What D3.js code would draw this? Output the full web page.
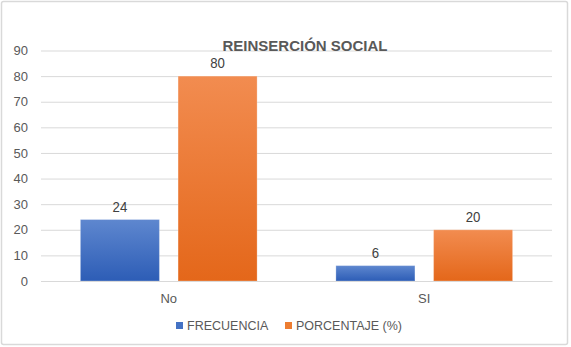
<!DOCTYPE html>
<html><head><meta charset="utf-8">
<script src="https://cdn.jsdelivr.net/npm/d3@7"></script>
<style>body{margin:0;background:#fff}svg{display:block}</style>
</head><body>
<script>
const categories = ["No", "SI"];
const seriesNames = ["FRECUENCIA", "PORCENTAJE (%)"];
const frecuencia = [24, 6];
const porcentaje = [80, 20];
const yTicks = [0, 10, 20, 30, 40, 50, 60, 70, 80, 90];
const title = "REINSERCIÓN SOCIAL";

const W = 571, H = 347;
const svg = d3.select("body").append("svg").attr("width", W).attr("height", H);
const defs = svg.append("defs");
const grads = [["gBlue", "#5e87cf", "#2d5db6"], ["gOrange", "#f28c50", "#e4671a"]];
grads.forEach(([id, c1, c2]) => {
  const g = defs.append("linearGradient").attr("id", id).attr("x1", 0).attr("y1", 0).attr("x2", 0).attr("y2", 1);
  g.append("stop").attr("offset", "0%").attr("stop-color", c1);
  g.append("stop").attr("offset", "100%").attr("stop-color", c2);
});
const fills = ["url(#gBlue)", "url(#gOrange)"];
const legendColors = ["#4472c4", "#ed7d31"];

svg.append("rect").attr("x", 1.5).attr("y", 1.5).attr("width", 566).attr("height", 343)
  .attr("rx", 2).attr("fill", "#fff").attr("stroke", "#d9d9d9").attr("stroke-width", 1.5);

const pLeft = 41, pRight = 552, pTop = 50.5, pBottom = 281;
const y = d3.scaleLinear().domain([0, 90]).range([pBottom, pTop]);
const p = 0.3084;
const x0 = d3.scaleBand().domain(categories).range([pLeft, pRight]).paddingInner(p).paddingOuter(p / 2);
const x1 = d3.scaleBand().domain(seriesNames).range([0, x0.bandwidth()]).paddingInner(0.191).paddingOuter(0);

const font = "'Liberation Sans', Arial, sans-serif";
const gray = "#595959";

// gridlines
const yAxis = d3.axisLeft(y).tickValues(yTicks).tickSize(-(pRight - pLeft)).tickPadding(13).tickFormat(d3.format("d"));
const ga = svg.append("g").attr("transform", `translate(${pLeft},0)`).call(yAxis);
ga.select(".domain").remove();
ga.selectAll(".tick line").attr("stroke", "#d9d9d9").attr("stroke-width", 1);
ga.selectAll(".tick text").attr("fill", gray).attr("font-size", 13).attr("font-family", font);

// bars
const data = categories.map((c, i) => ({ cat: c, vals: [frecuencia[i], porcentaje[i]] }));
const groups = svg.append("g").selectAll("g").data(data).join("g")
  .attr("transform", d => `translate(${x0(d.cat)},0)`);
groups.selectAll("rect").data(d => d.vals.map((v, j) => ({ v, s: seriesNames[j], j })))
  .join("rect")
  .attr("x", d => x1(d.s)).attr("y", d => y(d.v))
  .attr("width", x1.bandwidth()).attr("height", d => y(0) - y(d.v))
  .attr("fill", d => fills[d.j])
  .attr("stroke", "rgba(255,255,255,0.25)").attr("stroke-width", 1);
groups.selectAll("text").data(d => d.vals.map((v, j) => ({ v, s: seriesNames[j], j })))
  .join("text")
  .attr("transform", d => `translate(${x1(d.s) + x1.bandwidth() / 2},${y(d.v) - 8}) scale(0.88,1)`)
  .attr("text-anchor", "middle").attr("fill", "#404040").attr("font-size", 15)
  .attr("font-family", font)
  .text(d => d.v);

// x axis
const gx = svg.append("g").attr("transform", `translate(0,${pBottom})`)
  .call(d3.axisBottom(x0).tickSize(0).tickPadding(13));
gx.select(".domain").attr("stroke", "#d9d9d9");
gx.selectAll(".tick text").attr("fill", gray).attr("font-size", 13).attr("font-family", font);

// title
svg.append("text").attr("x", 305).attr("y", 51).attr("text-anchor", "middle")
  .attr("font-family", font).attr("font-weight", "bold").attr("font-size", 15)
  .attr("fill", gray).text(title);

// legend
const legendX = [176, 285];
seriesNames.forEach((s, i) => {
  svg.append("rect").attr("x", legendX[i]).attr("y", 322).attr("width", 7).attr("height", 7).attr("fill", legendColors[i]);
  svg.append("text").attr("x", legendX[i] + 11).attr("y", 330).attr("font-family", font)
    .attr("font-size", 12.5).attr("fill", gray).text(s);
});
</script>
</body></html>
